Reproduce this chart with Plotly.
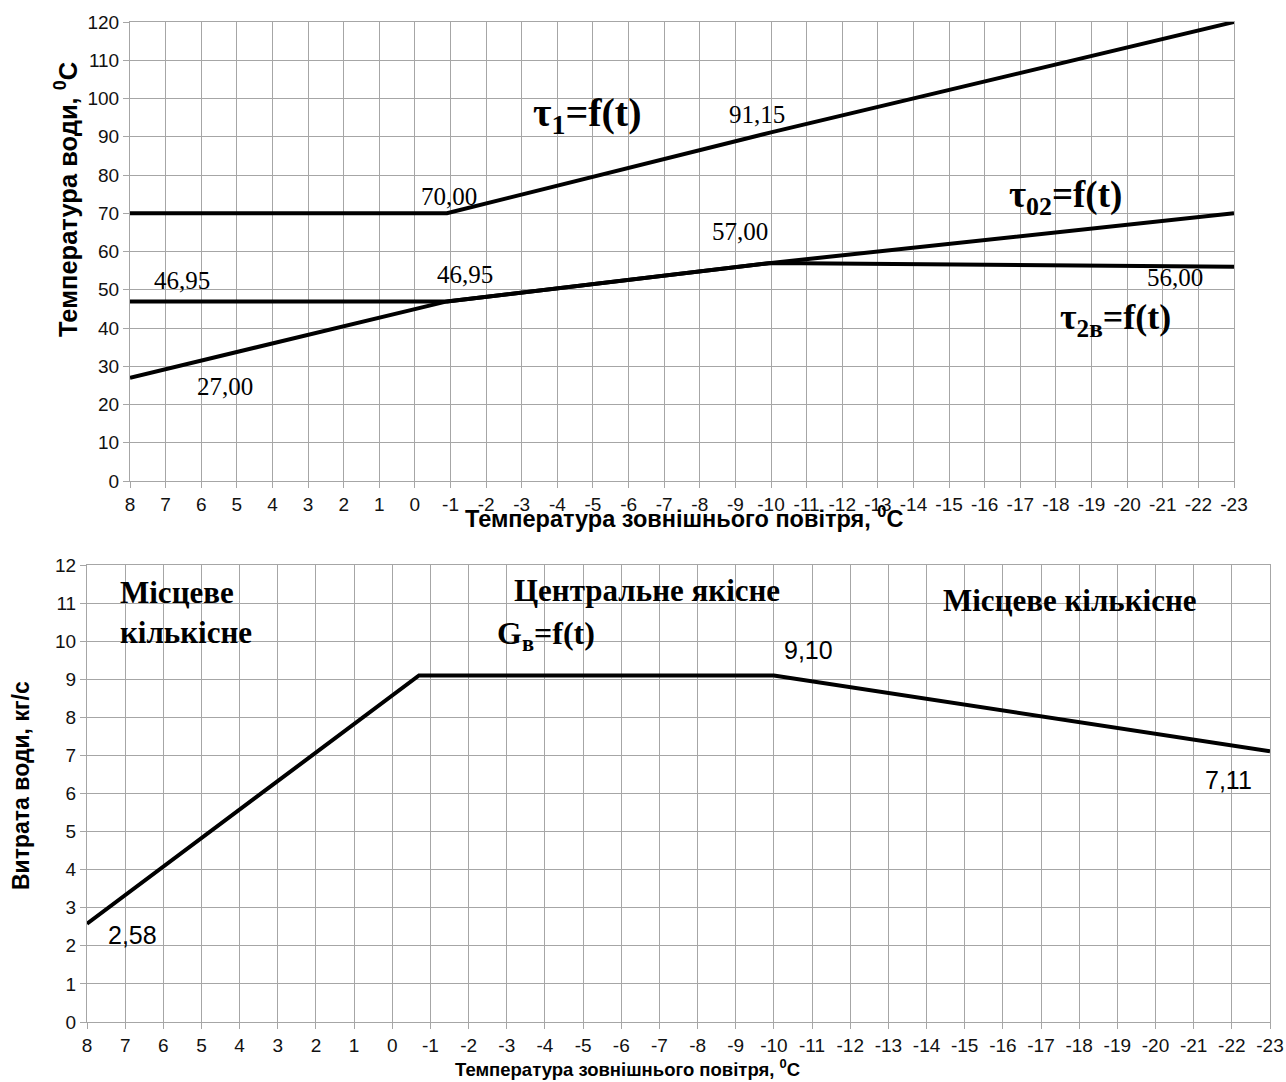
import plotly.graph_objects as go

# ---------------- data ----------------
t_ticks = list(range(8, -24, -1))
t_tick_labels = [str(v) for v in t_ticks]

temp_ticks = list(range(0, 121, 10))
flow_ticks = list(range(0, 13, 1))

# top chart: water temperatures
tau1_t = [8, -0.9, -10, -23]
tau1_v = [70.00, 70.00, 91.15, 120.00]
tau02_t = [8, -0.9, -10, -23]
tau02_v = [27.00, 46.95, 57.00, 70.00]
tau2v_t = [8, -0.9, -10, -23]
tau2v_v = [46.95, 46.95, 57.00, 56.00]

# bottom chart: water flow
g_t = [8, -0.7, -10, -23]
g_v = [2.58, 9.10, 9.10, 7.11]

# ---------------- styling ----------------
W, H = 1286, 1082
GRID = "#a6a6a6"
SANS = "Liberation Sans, Arial, sans-serif"
SERIF = "Liberation Serif, Times New Roman, serif"
LINE = dict(color="black", width=4)


def px_x(a, b):
    return [a / W, b / W]


def px_y(top, bottom):
    return [1 - bottom / H, 1 - top / H]


def paper_x(px):
    return px / W


def paper_y(py):
    return 1 - py / H


fig = go.Figure()

fig.add_trace(go.Scatter(x=tau1_t, y=tau1_v, mode="lines", line=LINE,
                         xaxis="x", yaxis="y", showlegend=False, name="τ1"))
fig.add_trace(go.Scatter(x=tau02_t, y=tau02_v, mode="lines", line=LINE,
                         xaxis="x", yaxis="y", showlegend=False, name="τ02"))
fig.add_trace(go.Scatter(x=tau2v_t, y=tau2v_v, mode="lines", line=LINE,
                         xaxis="x", yaxis="y", showlegend=False, name="τ2в"))
fig.add_trace(go.Scatter(x=g_t, y=g_v, mode="lines", line=LINE,
                         xaxis="x2", yaxis="y2", showlegend=False, name="Gв"))

xcommon = dict(
    tickvals=t_ticks, ticktext=t_tick_labels, range=[8, -23],
    showgrid=True, gridcolor=GRID, gridwidth=1,
    showline=True, linecolor=GRID, linewidth=1, mirror=True,
    ticks="outside", ticklen=6, tickcolor=GRID,
    tickfont=dict(family=SANS, size=19, color="#111"),
    zeroline=False, automargin=False,
)
ycommon = dict(
    showgrid=True, gridcolor=GRID, gridwidth=1,
    showline=True, linecolor=GRID, linewidth=1, mirror=True,
    ticks="outside", ticklen=6, tickcolor=GRID,
    tickfont=dict(family=SANS, size=19, color="#111"),
    zeroline=False, automargin=False,
)

fig.update_layout(
    width=W, height=H,
    margin=dict(l=0, r=0, t=0, b=0, autoexpand=False),
    paper_bgcolor="white", plot_bgcolor="white",
    xaxis=dict(domain=px_x(130, 1234), anchor="y", **xcommon),
    yaxis=dict(domain=px_y(22, 481), anchor="x", range=[0, 120],
               tickvals=temp_ticks, **ycommon),
    xaxis2=dict(domain=px_x(87, 1270), anchor="y2", **xcommon),
    yaxis2=dict(domain=px_y(565, 1022), anchor="x2", range=[0, 12],
                tickvals=flow_ticks, **ycommon),
)

ann = []


def lab(x, y, text, xref="x", yref="y", size=25, family=SERIF, **kw):
    kw.setdefault("xanchor", "center")
    kw.setdefault("yanchor", "middle")
    ann.append(dict(x=x, y=y, xref=xref, yref=yref, text=text, showarrow=False,
                    font=dict(family=family, size=size, color="black"), **kw))


# top chart value labels
lab(-0.96, 74.5, "70,00")
lab(-9.6, 95.9, "91,15")
lab(-9.13, 65.1, "57,00")
lab(6.54, 52.5, "46,95")
lab(-1.41, 53.9, "46,95")
lab(5.33, 24.8, "27,00")
lab(-21.35, 53.1, "56,00")
# top chart curve names
lab(-4.86, 95.7, "<b>τ<sub>1</sub>=f(t)</b>", size=40)
lab(-18.26, 74.0, "<b>τ<sub>02</sub>=f(t)</b>", size=37)
lab(-19.66, 42.1, "<b>τ<sub>2в</sub>=f(t)</b>", size=36)

# bottom chart labels
lab(7.2, 10.75, "<b>Місцеве<br>кількісне</b>", xref="x2", yref="y2", size=31,
    xanchor="left", align="left")
lab(-6.68, 11.34, "<b>Центральне якісне</b>", xref="x2", yref="y2", size=31)
lab(-17.76, 11.08, "<b>Місцеве кількісне</b>", xref="x2", yref="y2", size=31)
lab(-4.03, 10.14, "<b>G<sub>в</sub>=f(t)</b>", xref="x2", yref="y2", size=32)
lab(-10.9, 9.77, "9,10", xref="x2", yref="y2", size=25, family=SANS)
lab(-21.9, 6.36, "7,11", xref="x2", yref="y2", size=25, family=SANS)
lab(6.82, 2.28, "2,58", xref="x2", yref="y2", size=25, family=SANS)

# axis titles
lab(paper_x(684), paper_y(517), "<b>Температура зовнішнього повітря, <sup>0</sup>С</b>",
    xref="paper", yref="paper", size=23.5, family=SANS)
lab(paper_x(627), paper_y(1068), "<b>Температура зовнішнього повітря, <sup>0</sup>С</b>",
    xref="paper", yref="paper", size=18.5, family=SANS)
lab(paper_x(66), paper_y(200), "<b>Температура води, <sup>0</sup>С</b>",
    xref="paper", yref="paper", size=25.5, family=SANS, textangle=-90)
lab(paper_x(21), paper_y(786), "<b>Витрата води, кг/с</b>",
    xref="paper", yref="paper", size=23, family=SANS, textangle=-90)

fig.update_layout(annotations=ann)

# remove the default 8px page margin so the figure fills the window exactly
fig.write_html(
    "out.html",
    config={"displayModeBar": False},
    post_script="document.body.style.margin='0px';"
                "document.body.style.overflow='hidden';",
)
